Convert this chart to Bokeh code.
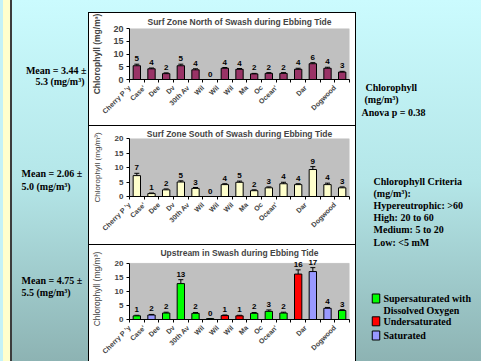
import math
from bokeh.plotting import figure
from bokeh.models import Range1d, FixedTicker, ColumnDataSource, Whisker, TeeHead, BoxAnnotation, Spacer
from bokeh.layouts import row, column
from bokeh.embed import file_html
from bokeh.resources import INLINE
from bokeh.core.properties import value

# ---------------- data ----------------
sites = ["Cherry P 'y", "Case'", "Dee", "Dv", "30th Av", "Wil", "Wil", "Wil", "Ma",
         "Oc", "Ocean'", "", "Dar", "", "Dogwood"]

titles = ["Surf Zone North of Swash during Ebbing Tide",
          "Surf Zone South of Swash during Ebbing Tide",
          "Upstream in Swash during Ebbing Tide"]

north_vals = [5.4, 4.2, 2.3, 5.4, 3.8, 0.0, 4.4, 4.0, 2.2, 2.4, 2.4, 4.0, 6.2, 4.4, 2.9]
north_err = [0.6, 0.3, 0.3, 0.6, 0.4, 0.0, 0.3, 0.3, 0.2, 0.3, 0.3, 0.4, 0.4, 0.4, 0.3]

south_vals = [7.2, 1.0, 2.3, 5.0, 2.8, 0.0, 4.1, 4.9, 2.0, 3.0, 4.4, 4.1, 9.3, 4.1, 3.0]
south_err = [0.8, 0.2, 0.3, 0.4, 0.3, 0.0, 0.3, 0.4, 0.3, 0.3, 0.5, 0.3, 1.0, 0.5, 0.3]

up_vals = [1.3, 1.6, 2.3, 12.8, 2.2, 0.3, 1.4, 1.3, 2.2, 2.9, 2.3, 16.2, 17.1, 4.0, 3.2]
up_err = [0.2, 0.2, 0.3, 1.4, 0.3, 0.0, 0.2, 0.2, 0.3, 0.5, 0.3, 1.5, 1.4, 0.3, 0.3]
up_status = ["super", "sat", "super", "super", "super", "super", "under", "under",
             "super", "super", "super", "under", "sat", "sat", "super"]

status_names = ["super", "under", "sat"]
status_labels = [["Supersaturated with", "Dissolved Oxygen"], ["Undersaturated"], ["Saturated"]]
status_colors = {"super": "#00ff00", "under": "#ff0000", "sat": "#9999ff"}

means = [3.44, 2.06, 4.75]
sds = [5.3, 5.0, 5.5]
anova_p = 0.38
criteria = ["Chlorophyll  Criteria", "(mg/m\u00b3):", "Hypereutrophic: >60",
            "High: 20 to 60", "Medium: 5 to 20", "Low: <5 mM"]

y_ticks = [0, 5, 10, 15, 20]
y_max = 20
y_title = "Chlorophyll (mg/m\u00b3)"

SANS = "Liberation Sans"
SERIF = "Liberation Serif"


def make_chart(title, vals, errs, colors, height, borders, range_top, title_off, title_standoff,
               ylab_size, ylab_style, ylab_standoff, ytick_size, shadow):
    bt, bb, bl, br = borders
    n = len(vals)
    upper = [v + e for v, e in zip(vals, errs)]
    src = ColumnDataSource(dict(
        x=[i + 0.5 for i in range(n)], top=vals, upper=upper, color=colors,
        lbl=[f"{v:.0f}" for v in vals]))
    p = figure(width=268, height=height, x_range=Range1d(0, n), y_range=Range1d(0, range_top),
               output_backend="svg", toolbar_location=None, title=title,
               min_border_top=bt, min_border_bottom=bb, min_border_left=bl, min_border_right=br,
               background_fill_color=None, border_fill_color=None, outline_line_color=None)
    p.styles = {"background": "white", "box-shadow": shadow}
    p.xgrid.visible = False
    p.ygrid.visible = False

    # gray plot area, 0..20
    p.add_layout(BoxAnnotation(left=0, right=n, bottom=0, top=y_max, fill_color="#c0c0c0",
                               fill_alpha=1, line_color="#808080", line_width=1,
                               level="underlay"))

    p.title.text_font = SANS
    p.title.text_font_size = "8.5px"
    p.title.text_font_style = "bold"
    p.title.align = "center"
    p.title.standoff = title_standoff
    p.title.offset = title_off

    p.vbar(x="x", top="top", width=0.5, source=src, fill_color="color",
           line_color="black", line_width=1)
    p.add_layout(Whisker(source=src, base="x", upper="upper", lower="top",
                         upper_head=TeeHead(size=5, line_color="black", line_width=1),
                         lower_head=None, line_color="black", line_width=1))
    p.text(x="x", y="upper", text="lbl", source=src, y_offset=-3,
           text_align="center", text_baseline="bottom", text_font=value(SANS),
           text_font_size="8px", text_font_style="bold", text_color="black")

    ya = p.yaxis[0]
    ya.ticker = FixedTicker(ticks=y_ticks)
    ya.bounds = (0, y_max)
    ya.major_tick_in = 0
    ya.major_tick_out = 3
    ya.minor_tick_in = 0
    ya.minor_tick_out = 0
    ya.axis_line_color = "black"
    ya.major_tick_line_color = "black"
    ya.major_label_text_font = SANS
    ya.major_label_text_font_size = ytick_size
    ya.major_label_text_font_style = "bold"
    ya.major_label_standoff = 3
    ya.axis_label = y_title
    ya.axis_label_text_font = SANS
    ya.axis_label_text_font_size = ylab_size
    ya.axis_label_text_font_style = ylab_style
    ya.axis_label_standoff = ylab_standoff

    xa = p.xaxis[0]
    xa.ticker = FixedTicker(ticks=list(range(n + 1)))
    xa.major_tick_in = 0
    xa.major_tick_out = 3
    xa.minor_tick_in = 0
    xa.minor_tick_out = 0
    xa.axis_line_color = "black"
    xa.major_tick_line_color = "black"
    xa.major_label_text_font = SANS
    xa.major_label_text_font_size = "7px"
    xa.major_label_text_font_style = "bold"
    xa.major_label_orientation = math.pi / 4
    xa.major_label_standoff = 4
    ov = {i: s for i, s in enumerate(sites)}
    ov[n] = ""
    xa.major_label_overrides = ov
    return p


p1 = make_chart(titles[0], north_vals, north_err, ["#993366"] * 15, 114, (16, 47, 39, 7),
                20, -7, 3, "8.5px", "bold", 8, "9px", "inset 0 0 0 1px #000")
p2 = make_chart(titles[1], south_vals, south_err, ["#ffffcc"] * 15, 119, (12, 49, 37, 6),
                20, 0, 0, "8px", "normal", 10, "8px",
                "inset 1px 0 0 #000, inset -1px -1px 0 #000")
p3 = make_chart(titles[2], up_vals, up_err, [status_colors[s] for s in up_status], 116,
                (12, 42, 38, 7), 20 * 62 / 57, -15, 1, "8.5px", "normal", 10, "8px",
                "inset 1px 0 0 #000, inset -1px 0 0 #000")

# ---------------- side panels ----------------
H = 361


def panel(w):
    q = figure(width=w, height=H, x_range=Range1d(0, w), y_range=Range1d(H, 0),
               output_backend="svg", toolbar_location=None, x_axis_type=None, y_axis_type=None,
               min_border=0, border_fill_color=None, background_fill_color=None,
               outline_line_color=None)
    q.xgrid.visible = False
    q.ygrid.visible = False
    return q


txt = dict(text_font=value(SERIF), text_font_size="10px", text_font_style="bold",
           text_color="black", text_baseline="middle")

left = panel(88)
left.styles = {"box-shadow": "inset 3px 0 0 #c4f2f6, inset 10px 0 0 #ffffcc, inset 12px 0 0 #3c3c3c"}
left.text(x=[86], y=[70], text=[f"Mean = {means[0]:.2f} \u00b1"], text_align="right", **txt)
left.text(x=[84], y=[80.5], text=[f"{sds[0]:.1f} (mg/m\u00b3)"], text_align="right", **txt)
left.text(x=[21, 21], y=[173.3, 186],
          text=[f"Mean = {means[1]:.2f} \u00b1", f"{sds[1]:.1f} (mg/m\u00b3)"],
          text_align="left", **txt)
left.text(x=[21, 21], y=[280, 292],
          text=[f"Mean = {means[2]:.2f} \u00b1", f"{sds[2]:.1f} (mg/m\u00b3)"],
          text_align="left", **txt)

right = panel(125)
right.text(x=[9, 8, 5], y=[87, 99, 111.5],
           text=["Chlorophyll", "(mg/m\u00b3)", f"Anova p = {anova_p:.2f}"],
           text_align="left", **txt)
right.text(x=[17] * len(criteria), y=[181 + 12.1 * i for i in range(len(criteria))],
           text=criteria, text_align="left", **txt)

item_y = [298, 320.8, 335]
right.rect(x=[19.5] * 3, y=item_y, width=7.5, height=9,
           fill_color=[status_colors[s] for s in status_names], line_color="black", line_width=1)
lx, ly, lt = [], [], []
for yy, labs in zip(item_y, status_labels):
    for j, s in enumerate(labs):
        lx.append(27)
        ly.append(yy + 12 * j)
        lt.append(s)
right.text(x=lx, y=ly, text=lt, text_align="left", **txt)

mid = column(Spacer(width=268, height=12), p1, p2, p3)
layout = row(left, mid, right)
layout.styles = {"background": "linear-gradient(to bottom, #cbfbfe 0%, #b4e6e8 50%, #8db3b3 100%)"}

open("out.html", "w").write(file_html(layout, INLINE))
